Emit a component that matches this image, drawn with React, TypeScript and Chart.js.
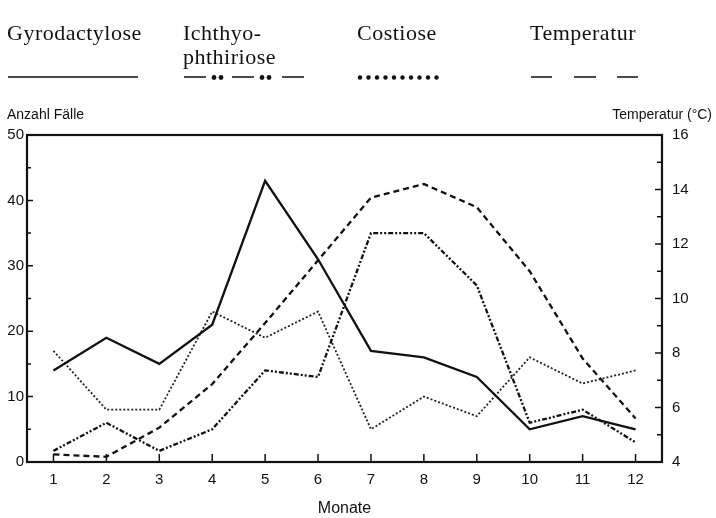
import React, { useEffect, useRef } from "react";
import { Chart, registerables } from "chart.js";

Chart.register(...registerables);

const months = [1, 2, 3, 4, 5, 6, 7, 8, 9, 10, 11, 12];
const gyrodactylose = [14, 19, 15, 21, 43, 31, 17, 16, 13, 5, 7, 5];
const ichthyophthiriose = [1.7, 6, 1.7, 5, 14, 13, 35, 35, 27, 6, 8, 3];
const costiose = [17, 8, 8, 23, 19, 23, 5, 10, 7, 16, 12, 14];
const temperatur = [4.28, 4.19, 5.26, 6.86, 9.1, 11.4, 13.7, 14.2, 13.35, 11.0, 7.8, 5.6];
const leftTicks = [0, 10, 20, 30, 40, 50];
const rightTicks = [4, 6, 8, 10, 12, 14, 16];

const SANS = "'Liberation Sans', Arial, sans-serif";
const SERIF = "'Liberation Serif', 'Times New Roman', serif";

const decorPlugin = {
  id: "decor",
  afterDatasetsDraw(chart: any) {
    const { ctx, chartArea } = chart;
    const xs = chart.scales.x;
    const yl = chart.scales.y;
    const yr = chart.scales.y1;
    ctx.save();
    ctx.strokeStyle = "#111";
    ctx.fillStyle = "#111";
    // frame
    ctx.lineWidth = 2.2;
    ctx.strokeRect(chartArea.left, chartArea.top, chartArea.right - chartArea.left, chartArea.bottom - chartArea.top);
    // inward ticks
    ctx.lineWidth = 1.5;
    ctx.beginPath();
    months.forEach((m) => {
      const px = xs.getPixelForValue(m);
      ctx.moveTo(px, chartArea.bottom);
      ctx.lineTo(px, chartArea.bottom - 8);
    });
    for (let v = 5; v < 50; v += 5) {
      const py = yl.getPixelForValue(v);
      ctx.moveTo(chartArea.left, py);
      ctx.lineTo(chartArea.left + (v % 10 === 0 ? 6 : 4), py);
    }
    for (let v = 5; v < 16; v += 1) {
      const py = yr.getPixelForValue(v);
      ctx.moveTo(chartArea.right, py);
      ctx.lineTo(chartArea.right - (v % 2 === 0 ? 7 : 5), py);
    }
    ctx.stroke();

    // axis titles
    ctx.font = `14px ${SANS}`;
    ctx.textBaseline = "middle";
    ctx.textAlign = "left";
    ctx.fillText("Anzahl Fälle", 7, 115);
    ctx.textAlign = "right";
    ctx.fillText("Temperatur (°C)", 712, 115);
    ctx.textAlign = "center";
    ctx.font = `16px ${SANS}`;
    ctx.fillText("Monate", (chartArea.left + chartArea.right) / 2, 509);

    // legend
    ctx.font = `22px ${SERIF}`;
    try {
      ctx.letterSpacing = "0.5px";
    } catch (e) {}
    ctx.textBaseline = "alphabetic";
    ctx.textAlign = "left";
    ctx.fillText("Gyrodactylose", 7, 40);
    ctx.fillText("Ichthyo-", 183, 40);
    ctx.fillText("phthiriose", 183, 64);
    ctx.fillText("Costiose", 357, 40);
    ctx.fillText("Temperatur", 530, 40);
    try {
      ctx.letterSpacing = "0px";
    } catch (e) {}

    const ly = 77;
    ctx.lineWidth = 1.5;
    ctx.beginPath();
    ctx.moveTo(8, ly);
    ctx.lineTo(138, ly);
    // Ichthyo dashes
    [[184, 206], [232, 254], [282, 304]].forEach(([a, b]) => {
      ctx.moveTo(a, ly);
      ctx.lineTo(b, ly);
    });
    // Temperatur dashes
    [[531, 552], [574, 596], [617, 638]].forEach(([a, b]) => {
      ctx.moveTo(a, ly);
      ctx.lineTo(b, ly);
    });
    ctx.stroke();
    const dot = (x: number, r: number) => {
      ctx.beginPath();
      ctx.arc(x, ly + 0.5, r, 0, Math.PI * 2);
      ctx.fill();
    };
    [214, 221, 262, 269].forEach((x) => dot(x, 2.4));
    for (let i = 0; i < 10; i++) dot(360 + i * 8.5, 2.2);
    ctx.restore();
  },
};

export default function App() {
  const ref = useRef<HTMLCanvasElement | null>(null);
  useEffect(() => {
    document.body.style.margin = "0";
    document.body.style.background = "#fff";
    const canvas = ref.current!;
    const pts = (arr: number[]) => months.map((m, i) => ({ x: m, y: arr[i] }));
    const chart = new Chart(canvas, {
      type: "line",
      data: {
        datasets: [
          {
            label: "Gyrodactylose",
            data: pts(gyrodactylose),
            borderColor: "#111",
            borderWidth: 2.3,
            pointRadius: 0,
            tension: 0,
            yAxisID: "y",
          },
          {
            label: "Ichthyophthiriose",
            data: pts(ichthyophthiriose),
            borderColor: "#111",
            borderWidth: 2.3,
            borderDash: [5, 2, 2, 2, 2, 2],
            pointRadius: 0,
            tension: 0,
            yAxisID: "y",
          },
          {
            label: "Costiose",
            data: pts(costiose),
            borderColor: "#222",
            borderWidth: 1.8,
            borderDash: [2, 2],
            pointRadius: 0,
            tension: 0,
            yAxisID: "y",
          },
          {
            label: "Temperatur",
            data: pts(temperatur),
            borderColor: "#111",
            borderWidth: 2.3,
            borderDash: [6, 4],
            pointRadius: 0,
            tension: 0,
            yAxisID: "y1",
          },
        ],
      },
      options: {
        animation: false,
        responsive: false,
        layout: { padding: { top: 135, left: 0, right: 0, bottom: 0 } },
        plugins: { legend: { display: false }, tooltip: { enabled: false } },
        scales: {
          x: {
            type: "linear",
            min: 0.5,
            max: 12.5,
            grid: { display: false, drawTicks: false },
            border: { display: false },
            afterBuildTicks: (s: any) => {
              s.ticks = months.map((m) => ({ value: m }));
            },
            afterFit: (s: any) => {
              s.height = 56;
            },
            ticks: {
              color: "#111",
              font: { family: SANS, size: 15 },
              padding: 9,
              maxRotation: 0,
              autoSkip: false,
              callback: (v: any) => String(v),
            },
          },
          y: {
            position: "left",
            min: 0,
            max: 50,
            grid: { display: false, drawTicks: false },
            border: { display: false },
            afterBuildTicks: (s: any) => {
              s.ticks = leftTicks.map((v) => ({ value: v }));
            },
            afterFit: (s: any) => {
              s.width = 27;
            },
            ticks: {
              color: "#111",
              font: { family: SANS, size: 15 },
              padding: 3,
            },
          },
          y1: {
            position: "right",
            min: 4,
            max: 16,
            grid: { display: false, drawTicks: false },
            border: { display: false },
            afterBuildTicks: (s: any) => {
              s.ticks = rightTicks.map((v) => ({ value: v }));
            },
            afterFit: (s: any) => {
              s.width = 54;
            },
            ticks: {
              color: "#111",
              font: { family: SANS, size: 15 },
              padding: 10,
            },
          },
        },
      },
      plugins: [decorPlugin],
    } as any);
    return () => chart.destroy();
  }, []);
  return <canvas ref={ref} width={716} height={518} style={{ display: "block" }} />;
}
